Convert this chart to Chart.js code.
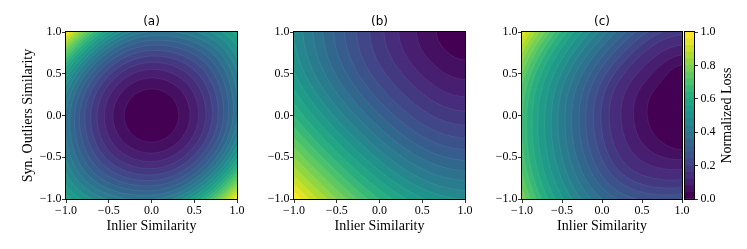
<!DOCTYPE html>
<html>
<head>
<meta charset="utf-8">
<script src="https://cdn.jsdelivr.net/npm/chart.js@4/dist/chart.umd.min.js"></script>
<style>
  html, body { margin: 0; padding: 0; background: #fff; }
  #wrap { position: relative; width: 747px; height: 249px; }
  #wrap canvas { position: absolute; left: 0; top: 0; }
</style>
</head>
<body>
<div id="wrap">
  <canvas id="panelA" width="747" height="249"></canvas>
  <canvas id="panelB" width="747" height="249"></canvas>
  <canvas id="panelC" width="747" height="249"></canvas>
  <canvas id="colorbar" width="747" height="249"></canvas>
</div>
<script>
// contour levels of the normalized loss (25 filled bands)
const lossLevels = [0.00, 0.04, 0.08, 0.12, 0.16, 0.20, 0.24, 0.28, 0.32, 0.36, 0.40, 0.44, 0.48,
  0.52, 0.56, 0.60, 0.64, 0.68, 0.72, 0.76, 0.80, 0.84, 0.88, 0.92, 0.96, 1.00];
const axisTicks = [-1.0, -0.5, 0.0, 0.5, 1.0];
const colorbarTicks = [0.0, 0.2, 0.4, 0.6, 0.8, 1.0];
const panelTitles = ['(a)', '(b)', '(c)'];

// where each level boundary crosses a ray from the loss minimum
// (a) minimum at the origin
const aCenter = [0, 0];
const aAxisR = [0.318, 0.450, 0.551, 0.636, 0.711, 0.779, 0.842, 0.900, 0.954, 1.006, 1.055, 1.102,
  1.147, 1.190, 1.232, 1.272, 1.312, 1.350, 1.386, 1.423, 1.458, 1.492, 1.525, 1.558];
const aDiagPosR = [0.320, 0.456, 0.563, 0.655, 0.739, 0.816, 0.890, 0.961, 1.030, 1.098, 1.166, 1.234,
  1.304, 1.376, 1.453, 1.54, 1.64, 1.76, 1.90, 2.05, 2.20, 2.40, 2.60, 2.80];
const aDiagNegR = [0.316, 0.444, 0.541, 0.621, 0.690, 0.752, 0.807, 0.859, 0.906, 0.950, 0.992, 1.031,
  1.069, 1.104, 1.138, 1.170, 1.201, 1.231, 1.260, 1.288, 1.315, 1.341, 1.366, 1.390];

// (b) minimum in the top right corner
const bCenter = [1, 1];
const bEdgeR = [0.335, 0.569, 0.775, 0.947, 1.115, 1.270, 1.407, 1.536, 1.661, 1.778, 1.895, 2.005,
  2.115, 2.220, 2.325, 2.430, 2.530, 2.630, 2.730, 2.830, 2.930, 3.030, 3.120, 3.210];
const bDiagR = [0.315, 0.533, 0.723, 0.881, 1.033, 1.172, 1.294, 1.407, 1.516, 1.617, 1.717, 1.810,
  1.902, 1.989, 2.075, 2.161, 2.241, 2.320, 2.399, 2.478, 2.556, 2.632, 2.700, 2.767];

// (c) minimum on the right edge, a little above the middle
const cCenter = [1.0, 0.1];
const cHorizR = [0.433, 0.604, 0.758, 0.904, 1.008, 1.100, 1.196, 1.279, 1.371, 1.454, 1.542, 1.625,
  1.708, 1.792, 1.863, 1.933, 1.990, 2.050, 2.100, 2.160, 2.210, 2.260, 2.310, 2.360];
const cVertR = [0.505, 0.625, 0.745, 0.866, 0.960, 1.045, 1.136, 1.215, 1.302, 1.381, 1.465, 1.544,
  1.623, 1.702, 1.770, 1.836, 1.891, 1.948, 1.995, 2.052, 2.100, 2.147, 2.195, 2.242];
const cDiagUpLeftR = [0.400, 0.548, 0.680, 0.805, 0.898, 0.980, 1.066, 1.140, 1.222, 1.296, 1.374, 1.448,
  1.522, 1.597, 1.660, 1.722, 1.773, 1.827, 1.871, 1.925, 1.969, 2.014, 2.058, 2.103];
const cDiagDownLeftR = [0.478, 0.658, 0.822, 0.981, 1.094, 1.194, 1.298, 1.388, 1.488, 1.578, 1.673, 1.763,
  1.853, 1.944, 2.021, 2.097, 2.159, 2.224, 2.279, 2.344, 2.398, 2.452, 2.506, 2.561];

const viridisStops = ['#440154', '#482475', '#414487', '#355f8d', '#2a788e', '#21918c',
  '#22a884', '#44bf70', '#7ad151', '#bddf26', '#fde725'];

function hexRgb(h) {
  return [1, 3, 5].map(i => parseInt(h.slice(i, i + 2), 16));
}

function viridis(t) {
  const p = Math.min(Math.max(t, 0), 1) * (viridisStops.length - 1);
  const i = Math.min(Math.floor(p), viridisStops.length - 2);
  const f = p - i;
  const c0 = hexRgb(viridisStops[i]), c1 = hexRgb(viridisStops[i + 1]);
  const c = c0.map((v, k) => Math.round(v + (c1[k] - v) * f));
  return `rgb(${c[0]},${c[1]},${c[2]})`;
}

const nBands = lossLevels.length - 1;
const bandColors = lossLevels.slice(1).map((_, i) => viridis(i / (nBands - 1)));

const rayAngles = [0, 45, 90, 135, 180, 225, 270, 315];

function ringPoints(center, radii) {
  const pts = radii.map((r, i) => {
    const a = rayAngles[i] * Math.PI / 180;
    return { x: center[0] + r * Math.cos(a), y: center[1] + r * Math.sin(a) };
  });
  // wrap round so the curve closes smoothly
  return [pts[pts.length - 1], ...pts, pts[0], pts[1]];
}

function contourDatasets(center, radiiFor) {
  const sets = [];
  for (let i = 0; i < nBands - 1; i++) {
    const data = ringPoints(center, radiiFor(i));
    const last = data.length - 1;
    sets.push({
      data,
      backgroundColor: bandColors[i],
      borderColor: 'rgba(255,255,255,0.13)',
      borderWidth: 0.5,
      fill: 'shape',
      pointRadius: 0,
      tension: 0.375,
      // the two overlap pieces of the wrap are not stroked
      segment: {
        borderColor: ctx => (ctx.p0DataIndex === 0 || ctx.p1DataIndex === last) ? 'rgba(0,0,0,0)' : undefined
      }
    });
  }
  return sets;
}

const fmt = v => (v < 0 ? '\u2212' : '') + Math.abs(v).toFixed(1);

Chart.defaults.font.family = "'Liberation Serif', 'Times New Roman', serif";
Chart.defaults.font.size = 12;
Chart.defaults.color = '#000';

const topBand = {
  id: 'topBand',
  beforeDatasetsDraw(chart) {
    const { ctx, chartArea: a } = chart;
    ctx.save();
    ctx.fillStyle = bandColors[nBands - 1];
    ctx.fillRect(a.left, a.top, a.width, a.height);
    ctx.restore();
  }
};

const axesFrame = {
  id: 'axesFrame',
  afterDatasetsDraw(chart) {
    const { ctx, chartArea: a } = chart;
    ctx.save();
    ctx.strokeStyle = '#000';
    ctx.lineWidth = 1;
    ctx.strokeRect(Math.round(a.left) - 0.5, Math.round(a.top) - 0.5,
      Math.round(a.width) + 1, Math.round(a.height) + 1);
    ctx.restore();
  }
};

function tickGrid() {
  return { drawOnChartArea: false, drawTicks: true, tickLength: 4, color: '#000', lineWidth: 0.8 };
}

function panel(id, title, datasets, pad, yTitle) {
  return new Chart(document.getElementById(id), {
    type: 'line',
    data: { datasets },
    options: {
      responsive: false,
      animation: false,
      devicePixelRatio: 1,
      layout: { padding: { left: pad.left, right: pad.right, top: 0, bottom: 0 } },
      elements: { line: { capBezierPoints: false } },
      plugins: {
        legend: { display: false },
        tooltip: { enabled: false },
        title: {
          display: true, text: title, fullSize: false, color: '#000',
          font: { family: "'DejaVu Sans', sans-serif", size: 12, weight: 'normal' },
          padding: { top: 15.1, bottom: 2.5 }
        }
      },
      scales: {
        x: {
          type: 'linear', min: -1, max: 1,
          afterBuildTicks: s => { s.ticks = axisTicks.map(v => ({ value: v })); },
          ticks: { callback: fmt, padding: 0.5, maxRotation: 0, autoSkip: false },
          grid: tickGrid(),
          border: { display: false },
          title: { display: true, text: 'Inlier Similarity', font: { size: 14 }, padding: { top: 0, bottom: 14.6 } },
          afterFit: s => { s.height = 50; s.paddingLeft = 0; s.paddingRight = 0; }
        },
        y: {
          type: 'linear', min: -1, max: 1,
          afterBuildTicks: s => { s.ticks = axisTicks.map(v => ({ value: v })); },
          ticks: { callback: fmt, padding: 0.5, autoSkip: false },
          grid: tickGrid(),
          border: { display: false },
          title: { display: !!yTitle, text: yTitle || '', font: { size: 14 }, padding: { top: 20, bottom: 0 } },
          afterFit: s => { s.width = pad.yWidth; s.paddingTop = 0; s.paddingBottom = 0; }
        }
      }
    },
    plugins: [topBand, axesFrame]
  });
}

panel('panelA', panelTitles[0],
  contourDatasets(aCenter, i => [aAxisR[i], aDiagPosR[i], aAxisR[i], aDiagNegR[i],
    aAxisR[i], aDiagPosR[i], aAxisR[i], aDiagNegR[i]]),
  { left: 0, right: 510, yWidth: 66 }, 'Syn. Outliers Similarity');

panel('panelB', panelTitles[1],
  contourDatasets(bCenter, i => [bEdgeR[i], bEdgeR[i], bEdgeR[i], bEdgeR[i],
    bEdgeR[i], bDiagR[i], bEdgeR[i], bEdgeR[i]]),
  { left: 254, right: 282, yWidth: 40 }, null);

panel('panelC', panelTitles[2],
  contourDatasets(cCenter, i => [cHorizR[i], cDiagDownLeftR[i], cVertR[i], cDiagUpLeftR[i],
    cHorizR[i], cDiagDownLeftR[i], cVertR[i], cDiagUpLeftR[i]]),
  { left: 482, right: 65, yWidth: 40 }, null);

const colorbarLabel = {
  id: 'colorbarLabel',
  afterDraw(chart) {
    const { ctx, chartArea: a } = chart;
    ctx.save();
    ctx.translate(chart.scales.y.right + 3, (a.top + a.bottom) / 2);
    ctx.rotate(-Math.PI / 2);
    ctx.font = "14px 'Liberation Serif', 'Times New Roman', serif";
    ctx.fillStyle = '#000';
    ctx.textAlign = 'center';
    ctx.textBaseline = 'middle';
    ctx.fillText('Normalized Loss', 0, 0);
    ctx.restore();
  }
};

new Chart(document.getElementById('colorbar'), {
  type: 'bar',
  data: {
    labels: [''],
    datasets: bandColors.map((c, i) => ({
      data: [lossLevels[i + 1] - lossLevels[i]],
      backgroundColor: c,
      borderWidth: 0,
      barPercentage: 1,
      categoryPercentage: 1
    }))
  },
  options: {
    responsive: false,
    animation: false,
    devicePixelRatio: 1,
    layout: { padding: { left: 685, right: 23, top: 32, bottom: 50 } },
    plugins: { legend: { display: false }, tooltip: { enabled: false } },
    scales: {
      x: { display: false, stacked: true },
      y: {
        stacked: true, position: 'right', min: 0, max: 1,
        afterBuildTicks: s => { s.ticks = colorbarTicks.map(v => ({ value: v })); },
        ticks: { callback: fmt, padding: 2.5, autoSkip: false },
        grid: tickGrid(),
        border: { display: false },
        afterFit: s => { s.width = 30; s.paddingTop = 0; s.paddingBottom = 0; }
      }
    }
  },
  plugins: [axesFrame, colorbarLabel]
});
</script>
</body>
</html>
